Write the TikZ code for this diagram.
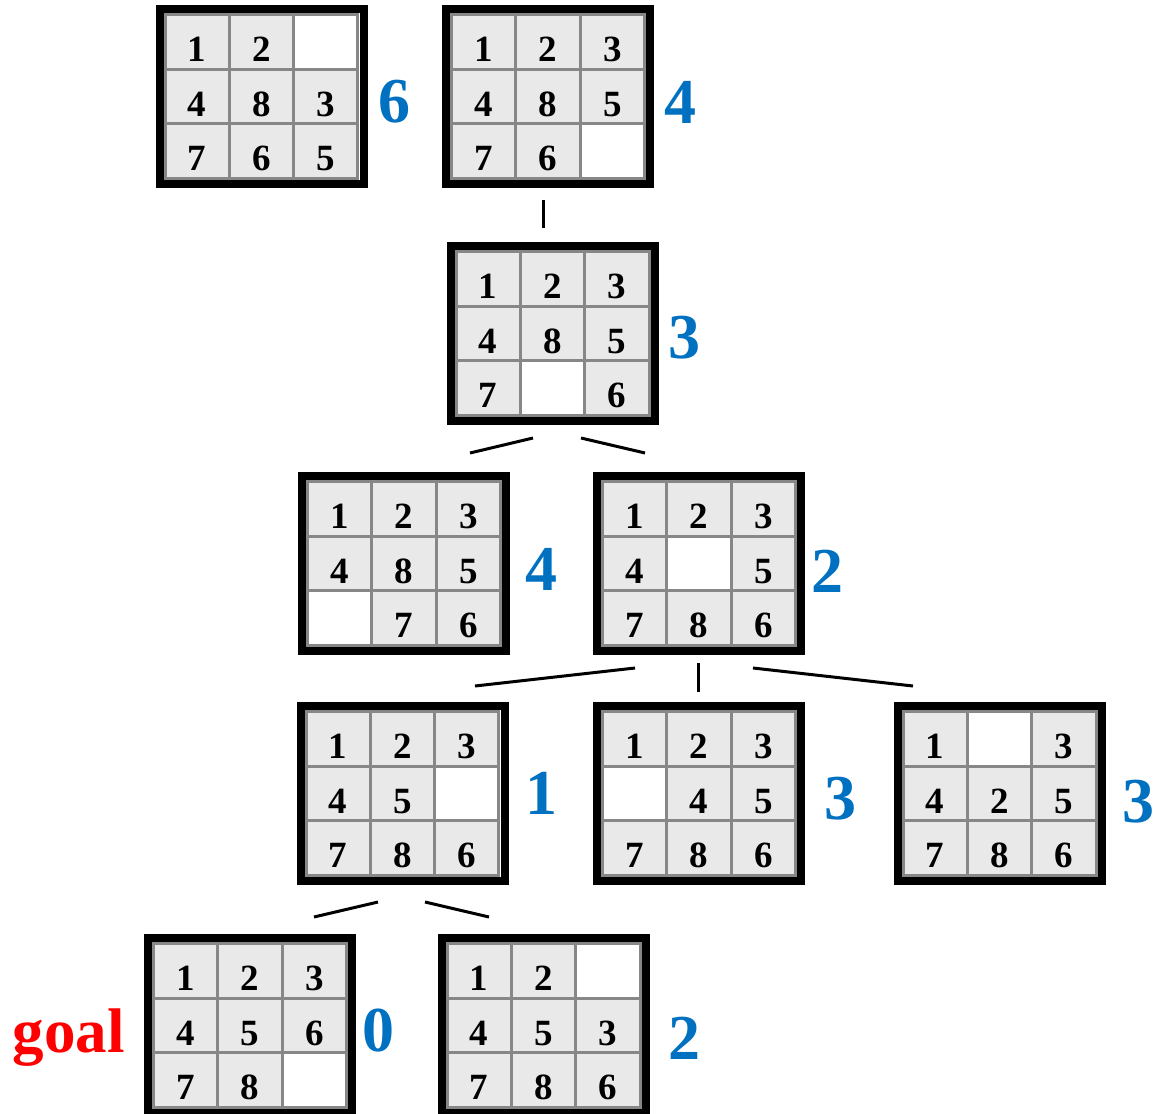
\documentclass[tikz,border=0pt]{standalone}
\usepackage{fontspec}
\setmainfont{Liberation Serif}
\definecolor{hblue}{HTML}{0070C0}
\definecolor{tilegray}{HTML}{E9E9E9}
\definecolor{gridgray}{HTML}{878787}
\tikzset{
    board/.style = {draw, line width = 8pt, minimum width = 204pt, minimum height = 175pt, inner sep = 0pt},
    tile/.style = {draw = gridgray, line width = 3pt, fill = tilegray, minimum width = 64.33pt, minimum height = 54.67pt,
        inner sep = 0pt, text height = 39pt, text depth = 0pt, font = \fontsize{37}{40}\selectfont\bfseries},
    hval/.style = {text = hblue, inner sep = 0pt, font = \fontsize{64}{70}\selectfont\bfseries},
    goal/.style = {text = red, inner sep = 0pt, font = \fontsize{63}{70}\selectfont\bfseries},
    link/.style = {line width = 3pt}
}
% a board: name, centre, tiles row by row (- is the empty one)
\def\blanktile{-}
\newcommand{\puzzle}[3]{%
    \node[board] (#1) at (#2) {};
    \begin{scope}[shift = {(#1.center)}]
        \foreach \v [count = \i from 0] in {#3} {
            \pgfmathtruncatemacro{\col}{mod(\i,3)}
            \pgfmathtruncatemacro{\row}{div(\i,3)}
            \edef\tilev{\v}
            \ifx\tilev\blanktile
                \node[tile, fill = white] (#1\i) at ({(\col-1)*64.33}, {(\row-1)*54.67}) {};
            \else
                \node[tile] (#1\i) at ({(\col-1)*64.33}, {(\row-1)*54.67}) {\v};
            \fi
        }
    \end{scope}
}
\begin{document}
\begin{tikzpicture}[x = 1pt, y = -1pt]
    \useasboundingbox (0,0) rectangle (1163,1114);
    % boards
    \puzzle{A}{261.5,96.5}{1,2,-,4,8,3,7,6,5}
    \puzzle{B}{548,96.5}{1,2,3,4,8,5,7,6,-}
    \puzzle{C}{552.5,333.5}{1,2,3,4,8,5,7,-,6}
    \puzzle{D}{404,563.5}{1,2,3,4,8,5,-,7,6}
    \puzzle{E}{699,563.5}{1,2,3,4,-,5,7,8,6}
    \puzzle{F}{402.5,793.5}{1,2,3,4,5,-,7,8,6}
    \puzzle{G}{699,793.5}{1,2,3,-,4,5,7,8,6}
    \puzzle{H}{999.5,793.5}{1,-,3,4,2,5,7,8,6}
    \puzzle{I}{250,1025.5}{1,2,3,4,5,6,7,8,-}
    \puzzle{J}{543.5,1025.5}{1,2,-,4,5,3,7,8,6}
    % heuristic values
    \node[hval] (hA) at ([shift = {(132.5,5)}]A.center) {6};
    \node[hval] (hB) at ([shift = {(132,6)}]B.center) {4};
    \node[hval] (hC) at ([shift = {(131.5,4.5)}]C.center) {3};
    \node[hval] (hD) at ([shift = {(137,5.5)}]D.center) {4};
    \node[hval] (hE) at ([shift = {(128.5,7.5)}]E.center) {2};
    \node[hval] (hF) at ([shift = {(138.5,0)}]F.center) {1};
    \node[hval] (hG) at ([shift = {(141,5.5)}]G.center) {3};
    \node[hval] (hH) at ([shift = {(138.5,8)}]H.center) {3};
    \node[hval] (hI) at ([shift = {(128,5.5)}]I.center) {0};
    \node[hval] (hJ) at ([shift = {(140.5,12.5)}]J.center) {2};
    \node[goal, anchor = base east] (goal) at ([shift = {(-19,26.5)}]I.west) {goal};
    % tree links
    \draw[link] ([shift = {(-5,12)}]B.south) -- ([shift = {(-9.5,-14)}]C.north);
    \draw[link] ([shift = {(-19.5,13)}]C.south) -- ([shift = {(66,-19)}]D.north);
    \draw[link] ([shift = {(28.5,13)}]C.south) -- ([shift = {(-54,-19)}]E.north);
    \draw[link] ([shift = {(-64,13)}]E.south) -- ([shift = {(72.5,-16)}]F.north);
    \draw[link] ([shift = {(-1,8)}]E.south) -- ([shift = {(-1,-10)}]G.north);
    \draw[link] ([shift = {(54,13)}]E.south) -- ([shift = {(-86.5,-16)}]H.north);
    \draw[link] ([shift = {(-24.5,17)}]F.south) -- ([shift = {(64,-17)}]I.north);
    \draw[link] ([shift = {(22.5,17)}]F.south) -- ([shift = {(-54.5,-17)}]J.north);
\end{tikzpicture}
\end{document}
